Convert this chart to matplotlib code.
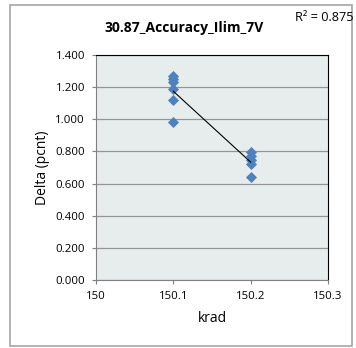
import numpy as np
import matplotlib
matplotlib.use("Agg")
import matplotlib.pyplot as plt
from matplotlib.patches import Rectangle

plt.rcParams["font.family"] = ["Open Sans", "DejaVu Sans"]

krad_left = [150.1, 150.1, 150.1, 150.1, 150.1, 150.1]
delta_left = [1.27, 1.25, 1.23, 1.19, 1.12, 0.985]
krad_right = [150.2, 150.2, 150.2, 150.2, 150.2]
delta_right = [0.795, 0.77, 0.745, 0.72, 0.64]

x = np.array(krad_left + krad_right)
y = np.array(delta_left + delta_right)

fig = plt.figure(figsize=(3.56, 3.48), dpi=100)
fig.patches.append(Rectangle((0.028, 0.006), 0.96, 0.98, transform=fig.transFigure,
                             fill=False, edgecolor="#a6a6a6", linewidth=1.2))

ax = fig.add_axes([0.27, 0.195, 0.651, 0.647])
ax.set_facecolor("#e7ecec")
ax.scatter(x, y, marker="D", s=32, color="#4f81bd", zorder=3, linewidths=0)

# linear trendline
m, b = np.polyfit(x, y, 1)
xs = np.array([150.1, 150.2])
ax.plot(xs, m * xs + b, color="black", linewidth=0.8, zorder=4)

ax.set_xlim(150, 150.3)
ax.set_ylim(0, 1.4)
ax.set_xticks([150, 150.1, 150.2, 150.3])
ax.set_xticklabels(["150", "150.1", "150.2", "150.3"])
ax.set_yticks(np.arange(0, 1.41, 0.2))
ax.set_yticklabels(["%.3f" % v for v in np.arange(0, 1.41, 0.2)])
ax.tick_params(labelsize=8.2, length=3, color="#808080")
ax.tick_params(axis="y", pad=5)
ax.tick_params(axis="x", pad=5)
ax.grid(axis="y", color="#969696", linewidth=0.9)
ax.set_axisbelow(True)
for s in ["top", "right"]:
    ax.spines[s].set_color("black")
for s in ["left", "bottom"]:
    ax.spines[s].set_color("#808080")

ax.set_xlabel("krad", fontsize=10, labelpad=6)
ax.set_ylabel("Delta (pcnt)", fontsize=10, labelpad=4)

fig.text(0.517, 0.92, "30.87_Accuracy_Ilim_7V", ha="center", va="center",
         fontsize=10, fontweight="bold")
fig.text(0.994, 0.95, "R² = 0.875", ha="right", va="center", fontsize=9.2)

fig.savefig("out.png", dpi=100)
